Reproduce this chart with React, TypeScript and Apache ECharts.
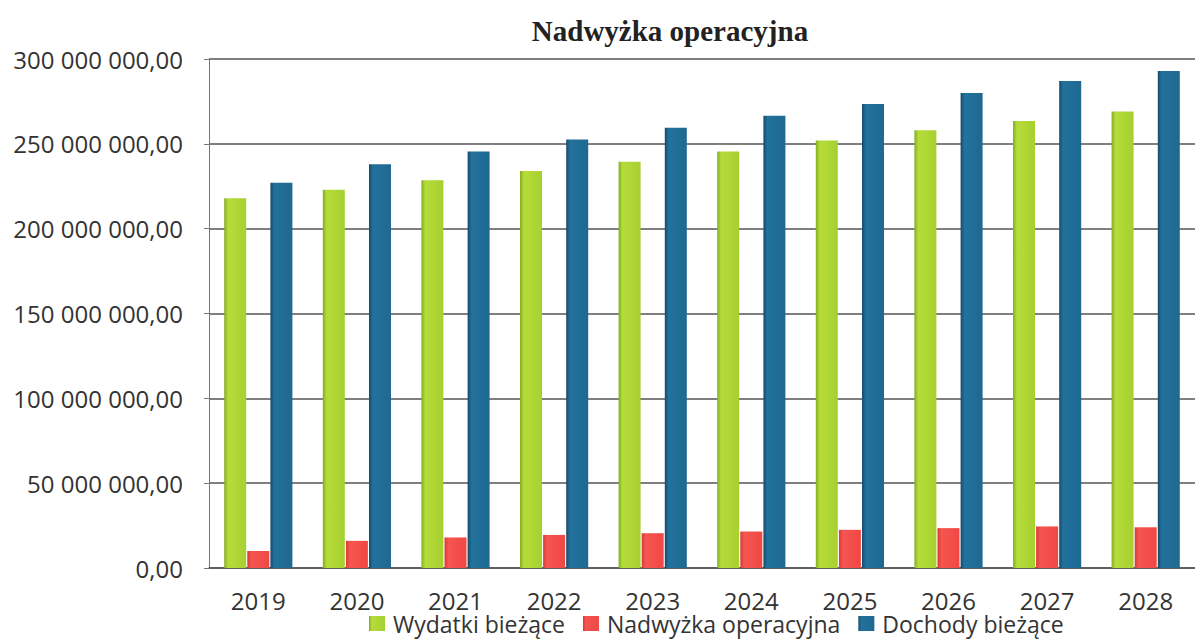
import React, { useEffect, useRef } from "react";
import * as echarts from "echarts";

const years = ["2019", "2020", "2021", "2022", "2023", "2024", "2025", "2026", "2027", "2028"];
// values in millions
const wydatkiBiezace = [218, 223, 228.5, 234, 239.5, 245.5, 252, 258, 263.5, 269];
const nadwyzkaOperacyjna = [10, 16, 18, 19.5, 20.5, 21.5, 22.5, 23.5, 24.5, 24];
const dochodyBiezace = [227, 238, 245.5, 252.5, 259.5, 266.5, 273.5, 280, 287, 293];
const seriesNames = ["Wydatki bieżące", "Nadwyżka operacyjna", "Dochody bieżące"];
const M = 1000000;

function fmt(v: number): string {
  const s = Math.round(v).toString().replace(/\B(?=(\d{3})+(?!\d))/g, " ");
  return s + ",00";
}

function grad(dark: string, light: string, mid: string) {
  return new echarts.graphic.LinearGradient(0, 0, 1, 0, [
    { offset: 0, color: dark },
    { offset: 0.18, color: light },
    { offset: 1, color: mid },
  ]);
}

export default function App() {
  const ref = useRef<HTMLDivElement>(null);
  useEffect(() => {
    if (!ref.current) return;
    const chart = echarts.init(ref.current, undefined, { renderer: "svg" });
    const font = "'Open Sans', sans-serif";
    chart.setOption({
      animation: false,
      backgroundColor: "#ffffff",
      title: {
        text: "Nadwyżka operacyjna",
        left: 665,
        top: 11,
        textAlign: "center",
        textStyle: {
          fontFamily: "'Liberation Serif', serif",
          fontWeight: "bold",
          fontSize: 29,
          color: "#222",
        },
      },
      legend: {
        left: 369,
        top: 612,
        padding: 0,
        itemWidth: 16,
        itemHeight: 15,
        itemGap: 18,
        icon: "rect",
        textStyle: {
          fontFamily: font,
          fontSize: 23,
          lineHeight: 23,
          color: "#333",
          padding: [0, 0, 0, 3],
        },
        data: seriesNames,
      },
      grid: { left: 209, right: -10, top: 59, bottom: 71 },
      xAxis: {
        type: "category",
        data: years,
        axisLine: { show: true, lineStyle: { color: "#555", width: 1.5 } },
        axisTick: { show: false },
        axisLabel: {
          fontFamily: font,
          fontSize: 24,
          lineHeight: 24,
          color: "#333",
          margin: 20,
        },
      },
      yAxis: {
        type: "value",
        min: 0,
        max: 300 * M,
        interval: 50 * M,
        axisLine: { show: true, lineStyle: { color: "#777", width: 1 } },
        axisTick: { show: true, length: 5, lineStyle: { color: "#777" } },
        splitLine: { show: true, lineStyle: { color: "#555", width: 1.5 } },
        axisLabel: {
          fontFamily: font,
          fontSize: 24,
          color: "#333",
          margin: 26,
          formatter: (v: number) => fmt(v),
        },
      },
      series: [
        {
          name: seriesNames[0],
          type: "bar",
          data: wydatkiBiezace.map((v) => v * M),
          barWidth: 22,
          barGap: "5%",
          itemStyle: { color: grad("#7fae22", "#b6dc3a", "#a6d030") },
        },
        {
          name: seriesNames[1],
          type: "bar",
          data: nadwyzkaOperacyjna.map((v) => v * M),
          barWidth: 22,
          barGap: "5%",
          itemStyle: { color: grad("#d83a36", "#f65550", "#f04844") },
        },
        {
          name: seriesNames[2],
          type: "bar",
          data: dochodyBiezace.map((v) => v * M),
          barWidth: 22,
          barGap: "5%",
          itemStyle: { color: grad("#184a68", "#22729c", "#1f6891") },
        },
      ],
    });
    return () => chart.dispose();
  }, []);
  return (
    <div
      ref={ref}
      style={{ position: "absolute", left: 0, top: 0, width: 1195, height: 639 }}
    />
  );
}
